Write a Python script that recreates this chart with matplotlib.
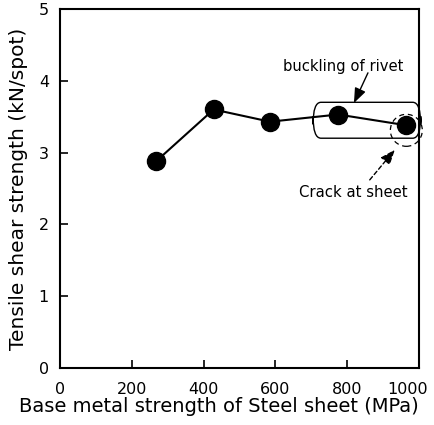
import matplotlib
matplotlib.use("Agg")
import matplotlib.pyplot as plt
import matplotlib.transforms as mtransforms
from matplotlib.patches import FancyBboxPatch, Ellipse

plt.rcParams['font.family'] = ['DejaVu Sans']

# base metal strength (MPa) vs tensile shear strength (kN/spot)
strength = [268, 428, 585, 775, 965]
shear = [2.88, 3.6, 3.43, 3.53, 3.38]

x_ticks = [0, 200, 400, 600, 800, 1000]
y_ticks = [0, 1, 2, 3, 4, 5]

fig = plt.figure(figsize=(4.35, 4.25), dpi=100)
ax = fig.add_axes([0.138, 0.134, 0.825, 0.845])

ax.plot(strength, shear, color='black', lw=1.5, marker='o', ms=13, zorder=3)

ax.set_xlim(0, 1000)
ax.set_ylim(0, 5)
ax.set_xticks(x_ticks)
ax.set_yticks(y_ticks)
ax.tick_params(direction='in', length=6, width=1.2, labelsize=11.5, pad=8)
ax.tick_params(axis='x', pad=10)
for s in ax.spines.values():
    s.set_linewidth(1.5)

# keep the last x tick label inside the figure
fig.canvas.draw()
last = ax.get_xticklabels()[-1]
last.set_transform(last.get_transform() +
                   mtransforms.ScaledTranslation(-8 / 72, 0, fig.dpi_scale_trans))

ax.set_xlabel('Base metal strength of Steel sheet (MPa)', fontsize=14)
ax.xaxis.set_label_coords(0.443, -0.082)
ax.set_ylabel('Tensile shear strength (kN/spot)', fontsize=14.5)
ax.yaxis.set_label_coords(-0.09, 0.5)

# rounded box around the rivet buckling points
box = FancyBboxPatch((705, 3.2), 300, 0.5, boxstyle='round,pad=0,rounding_size=22',
                     mutation_aspect=0.0139, fill=False, ec='black', lw=1.0,
                     clip_on=False, zorder=2)
ax.add_patch(box)

# dashed circle around the cracked sheet point
circ = Ellipse((965, 3.31), 89, 0.446, fill=False, ec='black', lw=0.9,
               ls=(0, (4, 3)), clip_on=False, zorder=2)
ax.add_patch(circ)

ax.text(788, 4.2, 'buckling of rivet', ha='center', va='center', fontsize=10.6)
ax.annotate('', xy=(819, 3.69), xytext=(858, 4.11),
            arrowprops=dict(arrowstyle='-|>,head_length=0.9,head_width=0.35',
                            color='black', lw=1.0, shrinkA=0, shrinkB=0))

ax.text(816, 2.44, 'Crack at sheet', ha='center', va='center', fontsize=10.7)
ax.annotate('', xy=(933, 3.04), xytext=(863, 2.62),
            arrowprops=dict(arrowstyle='-|>,head_length=0.9,head_width=0.35',
                            color='black', lw=1.0, ls=(0, (3, 2)),
                            shrinkA=0, shrinkB=0))

fig.savefig('out.png', dpi=100)
